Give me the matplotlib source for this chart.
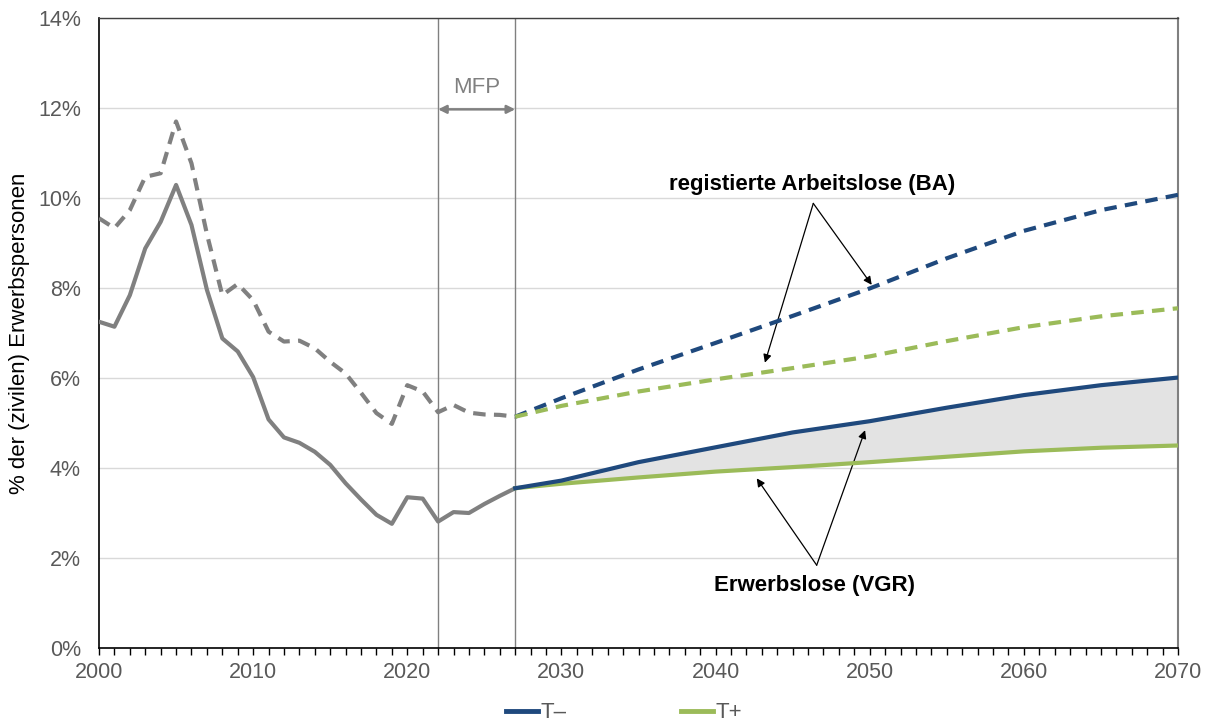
import matplotlib
matplotlib.use("Agg")
import matplotlib.pyplot as plt
from matplotlib.lines import Line2D
from matplotlib.ticker import MultipleLocator, FuncFormatter

# ---- data ----
hist_years = list(range(2000, 2028))
hist_vgr = [7.25, 7.14, 7.84, 8.88, 9.47, 10.29, 9.40, 7.96, 6.88, 6.59,
            6.02, 5.08, 4.68, 4.56, 4.36, 4.07, 3.66, 3.30, 2.96, 2.76,
            3.35, 3.32, 2.81, 3.02, 3.00, 3.20, 3.38, 3.55]
hist_ba = [9.55, 9.33, 9.73, 10.47, 10.55, 11.70, 10.77, 9.20, 7.84, 8.09,
           7.73, 7.03, 6.81, 6.83, 6.66, 6.36, 6.10, 5.67, 5.22, 4.98,
           5.84, 5.70, 5.24, 5.40, 5.23, 5.19, 5.18, 5.14]

proj_years = [2027, 2030, 2035, 2040, 2045, 2050, 2055, 2060, 2065, 2070]
ba_tminus = [5.14, 5.55, 6.19, 6.78, 7.38, 7.99, 8.66, 9.27, 9.73, 10.07]
ba_tplus = [5.14, 5.38, 5.70, 5.97, 6.22, 6.48, 6.82, 7.13, 7.37, 7.55]
vgr_tminus = [3.55, 3.72, 4.13, 4.46, 4.79, 5.04, 5.34, 5.62, 5.84, 6.01]
vgr_tplus = [3.55, 3.65, 3.79, 3.92, 4.02, 4.13, 4.25, 4.37, 4.45, 4.50]

legend_labels = ["T\u2013", "T+"]
mfp_start, mfp_end = 2022, 2027

# ---- style ----
BLUE = "#1F497D"
GREEN = "#9BBB59"
GRAY = "#808080"
TICKGRAY = "#595959"
plt.rcParams['font.family'] = ['Liberation Sans', 'DejaVu Sans']

fig = plt.figure(figsize=(12.09, 7.22), dpi=100)
ax = fig.add_axes([99/1209, 1-648/722, (1178-99)/1209, (648-18)/722])

lw = 3.0
dash = (3, 2)

ax.fill_between(proj_years, vgr_tplus, vgr_tminus, color="#E3E3E3", lw=0, zorder=1)

ax.plot(hist_years, hist_vgr, color=GRAY, lw=lw, zorder=3)
ax.plot(hist_years, hist_ba, color=GRAY, lw=lw, ls=(0, dash), zorder=3)

ax.plot(proj_years, ba_tminus, color=BLUE, lw=lw, ls=(0, dash), zorder=4)
ax.plot(proj_years, ba_tplus, color=GREEN, lw=lw, ls=(0, dash), zorder=4)
ax.plot(proj_years, vgr_tplus, color=GREEN, lw=lw, zorder=4)
ax.plot(proj_years, vgr_tminus, color=BLUE, lw=lw, zorder=5)

for x in (mfp_start, mfp_end):
    ax.axvline(x, color=GRAY, lw=1.0, zorder=2)

ax.set_xlim(2000, 2070)
ax.set_ylim(0, 14)
ax.yaxis.set_major_locator(MultipleLocator(2))
ax.yaxis.set_major_formatter(FuncFormatter(lambda v, p: f"{v:.0f}%"))
ax.xaxis.set_major_locator(MultipleLocator(10))
ax.xaxis.set_minor_locator(MultipleLocator(1))
ax.grid(axis='y', color="#D9D9D9", lw=1.0, zorder=0)
ax.set_axisbelow(True)

ax.tick_params(axis='y', length=0, labelsize=15.5, labelcolor=TICKGRAY, pad=13)
ax.tick_params(axis='x', which='major', direction='out', length=5, width=1,
               labelsize=15.5, labelcolor=TICKGRAY, pad=5, color="black")
ax.tick_params(axis='x', which='minor', direction='out', length=5, width=1, color="black")

for side in ('left', 'bottom'):
    ax.spines[side].set_color('black')
    ax.spines[side].set_linewidth(1.2)
ax.spines['top'].set_color('#404040')
ax.spines['top'].set_linewidth(1.0)
ax.spines['right'].set_color('#808080')
ax.spines['right'].set_linewidth(1.5)

fig.text(20/1209, 1-333/722, "% der (zivilen) Erwerbspersonen", fontsize=16,
         color="black", rotation=90, ha='center', va='center')

# MFP marker
ax.annotate("", xy=(mfp_start, 11.97), xytext=(mfp_end, 11.97),
            arrowprops=dict(arrowstyle="<|-|>", color=GRAY, lw=1.8,
                            mutation_scale=12, shrinkA=0, shrinkB=0))
ax.text((mfp_start + mfp_end) / 2, 12.45, "MFP", color=GRAY, fontsize=16,
        ha='center', va='center')

# annotations
arrow_kw = dict(arrowstyle="-|>", color="black", lw=0.9, mutation_scale=12,
                shrinkA=0, shrinkB=0)
ax.text(2046.26, 10.31, "registierte Arbeitslose (BA)", fontsize=16, fontweight='bold',
        ha='center', va='center')
ax.annotate("", xy=(2043.2, 6.34), xytext=(2046.34, 9.88), arrowprops=arrow_kw)
ax.annotate("", xy=(2050.13, 8.07), xytext=(2046.34, 9.88), arrowprops=arrow_kw)

ax.text(2046.45, 1.38, "Erwerbslose (VGR)", fontsize=16, fontweight='bold',
        ha='center', va='center')
ax.annotate("", xy=(2042.67, 3.77), xytext=(2046.56, 1.84), arrowprops=arrow_kw)
ax.annotate("", xy=(2049.7, 4.84), xytext=(2046.56, 1.84), arrowprops=arrow_kw)

handles = [Line2D([0], [0], color=BLUE, lw=3.5), Line2D([0], [0], color=GREEN, lw=3.5)]
fig.legend(handles, legend_labels, loc='center', bbox_to_anchor=(0.516, 0.0125),
           ncol=2, frameon=False, fontsize=16, handlelength=1.45, handletextpad=0.1,
           columnspacing=5.15, labelcolor=TICKGRAY, borderpad=0)

fig.savefig("out.png", dpi=100)
